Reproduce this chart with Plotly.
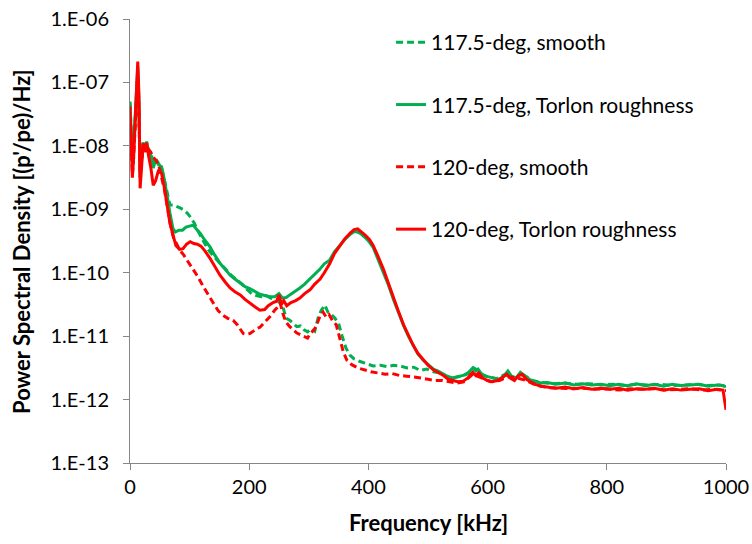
import plotly.graph_objects as go

# ---------------- data (frequency in kHz, PSD in (p'/pe)/Hz) ----------------
f_gs = [0, 2, 4, 6, 9, 11, 13, 15, 17, 19, 22, 25, 28, 31, 35, 39, 43, 48, 53, 58,
        63, 67, 72, 76, 82, 88, 94, 100, 106, 112, 118, 125, 134, 142, 151, 160, 168, 176, 185, 193,
        201, 210, 218, 226, 235, 243, 250, 256, 262, 268, 276, 285, 293, 302, 310, 318, 326, 335, 343, 352,
        360, 369, 376, 382, 388, 395, 402, 408, 416, 425, 433, 442, 450, 459, 467, 475, 483, 492, 500, 509,
        517, 526, 534, 542, 550, 559, 567, 575, 580, 584, 590, 597, 605, 612, 620, 628, 634, 640, 648, 655,
        662, 670, 680, 690, 700, 715, 730, 745, 760, 775, 790, 805, 820, 835, 850, 865, 880, 895, 910, 925,
        940, 955, 970, 985, 995, 1000]
p_gs = [5.01e-8, 1.58e-8, 5.62e-9, 1.0e-8, 3.16e-8, 1.0e-7, 1.78e-7, 5.01e-8, 3.16e-9, 5.01e-9,
        1.12e-8, 8.91e-9, 1.17e-8, 7.94e-9, 7.08e-9, 4.47e-9, 6.03e-9, 5.01e-9, 4.68e-9, 2.82e-9,
        1.41e-9, 8.71e-10, 5.01e-10, 4.37e-10, 4.68e-10, 4.68e-10, 5.25e-10, 5.37e-10, 5.62e-10, 4.79e-10,
        4.17e-10, 3.31e-10, 2.57e-10, 1.91e-10, 1.41e-10, 1.12e-10, 9.12e-11, 7.94e-11, 6.76e-11, 6.03e-11,
        5.62e-11, 5.01e-11, 4.57e-11, 4.37e-11, 4.17e-11, 4.17e-11, 4.68e-11, 3.98e-11, 4.07e-11, 4.47e-11,
        5.01e-11, 5.75e-11, 6.61e-11, 7.94e-11, 9.33e-11, 1.12e-10, 1.38e-10, 1.58e-10, 2.14e-10, 2.69e-10,
        3.31e-10, 3.98e-10, 4.47e-10, 4.37e-10, 4.07e-10, 3.55e-10, 3.02e-10, 2.51e-10, 1.66e-10, 1.07e-10,
        6.61e-11, 3.80e-11, 2.40e-11, 1.48e-11, 1.0e-11, 7.08e-12, 5.25e-12, 4.17e-12, 3.55e-12, 3.02e-12,
        2.82e-12, 2.51e-12, 2.29e-12, 2.19e-12, 2.29e-12, 2.40e-12, 2.63e-12, 3.16e-12, 2.82e-12, 3.02e-12,
        2.51e-12, 2.34e-12, 2.24e-12, 2.19e-12, 2.09e-12, 2.40e-12, 2.82e-12, 2.34e-12, 2.19e-12, 2.69e-12,
        2.40e-12, 2.09e-12, 1.91e-12, 1.82e-12, 1.86e-12, 1.74e-12, 1.82e-12, 1.70e-12, 1.78e-12, 1.70e-12,
        1.74e-12, 1.66e-12, 1.74e-12, 1.66e-12, 1.78e-12, 1.66e-12, 1.74e-12, 1.62e-12, 1.74e-12, 1.66e-12,
        1.70e-12, 1.74e-12, 1.62e-12, 1.70e-12, 1.66e-12, 1.58e-12]

f_rs = [0, 2, 4, 6, 9, 11, 13, 15, 17, 19, 22, 25, 28, 31, 35, 39, 43, 48, 53, 58,
        63, 67, 72, 77, 83, 89, 95, 101, 107, 113, 119, 126, 134, 142, 151, 160, 168, 176, 185, 193,
        201, 210, 218, 226, 232, 240, 246, 250, 254, 258, 263, 270, 278, 285, 293, 302, 310, 319, 326, 335,
        343, 352, 360, 369, 376, 382, 388, 395, 402, 408, 416, 425, 433, 442, 450, 459, 467, 475, 483, 492,
        500, 509, 517, 526, 534, 542, 550, 559, 567, 575, 580, 585, 592, 600, 608, 616, 624, 632, 638, 645,
        652, 658, 665, 672, 680, 690, 700, 715, 730, 745, 760, 775, 790, 805, 820, 835, 850, 865, 880, 895,
        910, 925, 940, 955, 970, 985, 995, 1000]
p_rs = [4.17e-8, 1.26e-8, 3.16e-9, 6.31e-9, 2.51e-8, 1.0e-7, 2.14e-7, 6.31e-8, 2.14e-9, 3.98e-9,
        1.10e-8, 7.94e-9, 1.12e-8, 7.08e-9, 4.47e-9, 2.40e-9, 2.82e-9, 4.17e-9, 3.72e-9, 2.09e-9,
        1.0e-9, 6.03e-10, 3.98e-10, 2.69e-10, 2.34e-10, 2.40e-10, 2.82e-10, 3.09e-10, 2.88e-10, 2.82e-10,
        2.63e-10, 2.19e-10, 1.70e-10, 1.26e-10, 9.12e-11, 7.08e-11, 5.75e-11, 5.01e-11, 4.47e-11, 3.80e-11,
        3.31e-11, 2.88e-11, 2.57e-11, 2.63e-11, 3.02e-11, 3.39e-11, 3.55e-11, 4.47e-11, 3.16e-11, 3.63e-11,
        3.02e-11, 3.39e-11, 3.63e-11, 3.98e-11, 4.68e-11, 5.37e-11, 6.61e-11, 7.94e-11, 1.0e-10, 1.38e-10,
        2.0e-10, 2.63e-10, 3.39e-10, 4.17e-10, 4.79e-10, 4.90e-10, 4.47e-10, 3.89e-10, 3.31e-10, 2.69e-10,
        1.82e-10, 1.15e-10, 7.08e-11, 3.98e-11, 2.51e-11, 1.51e-11, 1.05e-11, 7.24e-12, 5.37e-12, 4.17e-12,
        3.47e-12, 2.95e-12, 2.69e-12, 2.40e-12, 2.09e-12, 2.0e-12, 1.91e-12, 1.95e-12, 2.19e-12, 2.69e-12,
        2.40e-12, 2.63e-12, 2.19e-12, 2.0e-12, 1.91e-12, 2.0e-12, 2.19e-12, 2.51e-12, 2.19e-12, 2.0e-12,
        2.40e-12, 2.51e-12, 2.09e-12, 1.91e-12, 1.74e-12, 1.62e-12, 1.58e-12, 1.51e-12, 1.58e-12, 1.48e-12,
        1.55e-12, 1.45e-12, 1.51e-12, 1.45e-12, 1.51e-12, 1.41e-12, 1.48e-12, 1.45e-12, 1.51e-12, 1.41e-12,
        1.48e-12, 1.41e-12, 1.45e-12, 1.48e-12, 1.38e-12, 1.45e-12, 1.41e-12, 6.92e-13]

f_gd = [0, 2, 4, 6, 9, 11, 13, 15, 17, 19, 22, 25, 28, 31, 35, 39, 43, 48, 53, 58,
        63, 67, 72, 78, 84, 90, 96, 102, 108, 115, 123, 130, 138, 146, 155, 164, 172, 180, 188, 196,
        204, 212, 220, 228, 236, 244, 250, 256, 262, 268, 274, 280, 286, 292, 298, 304, 310, 316, 321, 327,
        332, 338, 344, 350, 356, 362, 369, 376, 386, 397, 408, 420, 431, 442, 453, 465, 476, 487, 498, 509,
        520, 530, 540, 550, 560, 570, 577, 584, 592, 600, 615, 630, 645, 660, 675, 690, 710, 730, 750, 770,
        790, 810, 830, 850, 870, 890, 910, 930, 950, 970, 990, 1000]
p_gd = [4.68e-8, 1.41e-8, 5.62e-9, 8.91e-9, 2.82e-8, 7.94e-8, 1.41e-7, 3.98e-8, 3.55e-9, 5.62e-9,
        1.12e-8, 8.91e-9, 1.12e-8, 8.32e-9, 7.59e-9, 5.62e-9, 6.31e-9, 5.25e-9, 4.47e-9, 2.82e-9,
        1.66e-9, 1.17e-9, 1.17e-9, 1.12e-9, 1.05e-9, 9.77e-10, 8.71e-10, 7.41e-10, 6.03e-10, 4.37e-10,
        3.16e-10, 2.40e-10, 1.91e-10, 1.58e-10, 1.26e-10, 1.05e-10, 8.71e-11, 7.59e-11, 6.61e-11, 5.50e-11,
        4.68e-11, 4.37e-11, 4.17e-11, 4.37e-11, 3.98e-11, 3.80e-11, 3.47e-11, 3.02e-11, 1.91e-11, 1.78e-11,
        1.58e-11, 1.41e-11, 1.45e-11, 1.26e-11, 1.17e-11, 1.32e-11, 1.20e-11, 2.0e-11, 2.57e-11, 3.09e-11,
        2.40e-11, 2.19e-11, 1.91e-11, 1.58e-11, 1.0e-11, 6.61e-12, 5.01e-12, 4.37e-12, 3.98e-12, 3.72e-12,
        3.39e-12, 3.47e-12, 3.31e-12, 3.47e-12, 3.39e-12, 3.16e-12, 3.24e-12, 2.88e-12, 3.02e-12, 2.75e-12,
        2.63e-12, 2.34e-12, 2.19e-12, 2.29e-12, 2.40e-12, 2.63e-12, 3.16e-12, 2.88e-12, 2.45e-12, 2.29e-12,
        2.14e-12, 2.51e-12, 2.19e-12, 2.45e-12, 2.0e-12, 1.86e-12, 1.78e-12, 1.82e-12, 1.74e-12, 1.78e-12,
        1.70e-12, 1.74e-12, 1.66e-12, 1.74e-12, 1.70e-12, 1.74e-12, 1.66e-12, 1.70e-12, 1.74e-12, 1.66e-12,
        1.70e-12, 1.62e-12]

f_rd = [0, 2, 4, 6, 9, 11, 13, 15, 17, 19, 22, 25, 28, 31, 35, 39, 43, 48, 53, 58,
        63, 68, 73, 78, 84, 90, 96, 102, 108, 115, 123, 131, 140, 148, 156, 164, 173, 180, 186, 190,
        196, 201, 207, 213, 218, 224, 230, 236, 242, 247, 252, 257, 262, 268, 274, 280, 286, 292, 298, 303,
        309, 314, 319, 324, 329, 334, 340, 346, 352, 358, 364, 372, 382, 392, 404, 416, 428, 440, 452, 464,
        476, 488, 500, 512, 524, 536, 548, 560, 575, 590, 605, 620, 635, 650, 665, 680, 700, 720, 740, 760,
        780, 800, 820, 840, 860, 880, 900, 920, 940, 960, 980, 1000]
p_rd = [2.51e-8, 7.94e-9, 3.47e-9, 6.31e-9, 2.0e-8, 6.31e-8, 1.26e-7, 3.16e-8, 3.16e-9, 5.01e-9,
        1.0e-8, 8.91e-9, 1.0e-8, 8.91e-9, 7.94e-9, 6.61e-9, 6.03e-9, 5.01e-9, 3.31e-9, 2.0e-9,
        1.05e-9, 5.62e-10, 3.55e-10, 2.82e-10, 2.24e-10, 1.91e-10, 1.58e-10, 1.26e-10, 1.05e-10, 8.32e-11,
        6.03e-11, 4.47e-11, 3.31e-11, 2.51e-11, 2.14e-11, 1.91e-11, 1.78e-11, 1.51e-11, 1.26e-11, 1.10e-11,
        1.07e-11, 1.10e-11, 1.20e-11, 1.32e-11, 1.38e-11, 1.58e-11, 1.82e-11, 2.09e-11, 2.51e-11, 2.82e-11,
        3.31e-11, 2.19e-11, 1.66e-11, 1.41e-11, 1.26e-11, 1.12e-11, 1.05e-11, 1.0e-11, 9.33e-12, 1.12e-11,
        1.26e-11, 1.58e-11, 2.09e-11, 2.40e-11, 2.0e-11, 2.19e-11, 1.74e-11, 1.51e-11, 8.91e-12, 5.62e-12,
        4.17e-12, 3.55e-12, 3.16e-12, 2.95e-12, 2.75e-12, 2.63e-12, 2.51e-12, 2.57e-12, 2.40e-12, 2.34e-12,
        2.29e-12, 2.19e-12, 2.09e-12, 2.0e-12, 2.0e-12, 1.91e-12, 1.82e-12, 1.91e-12, 2.51e-12, 2.19e-12,
        1.91e-12, 2.0e-12, 2.29e-12, 2.19e-12, 2.0e-12, 1.70e-12, 1.55e-12, 1.51e-12, 1.48e-12, 1.51e-12,
        1.45e-12, 1.48e-12, 1.41e-12, 1.48e-12, 1.45e-12, 1.48e-12, 1.41e-12, 1.45e-12, 1.48e-12, 1.41e-12,
        1.45e-12, 1.38e-12]

names = ["117.5-deg, smooth", "117.5-deg, Torlon roughness", "120-deg, smooth", "120-deg, Torlon roughness"]
y_tick_vals = [1e-13, 1e-12, 1e-11, 1e-10, 1e-9, 1e-8, 1e-7, 1e-6]
y_tick_text = ["1.E-13", "1.E-12", "1.E-11", "1.E-10", "1.E-09", "1.E-08", "1.E-07", "1.E-06"]
x_tick_vals = [0, 200, 400, 600, 800, 1000]

GREEN = "#00B050"
RED = "#FF0000"
FONT = "Lato"

fig = go.Figure()
series = [
    (f_gd, p_gd, names[0], GREEN, "7px,4px", "g1"),
    (f_gs, p_gs, names[1], GREEN, "solid", "g2"),
    (f_rd, p_rd, names[2], RED, "7px,4px", "g3"),
    (f_rs, p_rs, names[3], RED, "solid", "g4"),
]
for fx, py, nm, col, dash, grp in series:
    fig.add_trace(go.Scatter(x=fx, y=py, name=nm, mode="lines", legendgroup=grp,
                             line=dict(color=col, width=3, dash=dash)))

axis_col = "#868686"
fig.update_layout(
    width=752, height=544,
    margin=dict(l=130, r=26, t=19, b=81, autoexpand=False),
    paper_bgcolor="white", plot_bgcolor="white",
    font=dict(family=FONT, size=20, color="black"),
    showlegend=True,
    legend=dict(x=0.438, y=0.993, xanchor="left", yanchor="top",
                font=dict(family=FONT, size=21, color="black"),
                tracegroupgap=32, bgcolor="rgba(0,0,0,0)", itemwidth=30),
    xaxis=dict(range=[0, 1000], tickvals=x_tick_vals, showgrid=False, zeroline=False,
               showline=True, linecolor=axis_col, linewidth=1, automargin=False,
               ticks="outside", ticklen=6, tickcolor=axis_col,
               tickfont=dict(family=FONT, size=20, color="black")),
    yaxis=dict(type="log", range=[-13, -6], tickvals=y_tick_vals, ticktext=y_tick_text,
               showgrid=False, zeroline=False, showline=True, linecolor=axis_col, linewidth=1,
               automargin=False,
               ticks="outside", ticklen=6, tickcolor=axis_col, ticklabelstandoff=10,
               tickfont=dict(family=FONT, size=20, color="black")),
    annotations=[
        dict(text="<b>Frequency [kHz]</b>", xref="paper", yref="paper", x=0.5, y=-0.135,
             xanchor="center", yanchor="middle", showarrow=False,
             font=dict(family=FONT, size=22, color="black")),
        dict(text="<b>Power Spectral Density [(p'/pe)/Hz]</b>", xref="paper", yref="paper",
             x=-0.183, y=0.5, xanchor="center", yanchor="middle", textangle=-90, showarrow=False,
             font=dict(family=FONT, size=22, color="black")),
    ],
)

fig.write_html("out.html")
